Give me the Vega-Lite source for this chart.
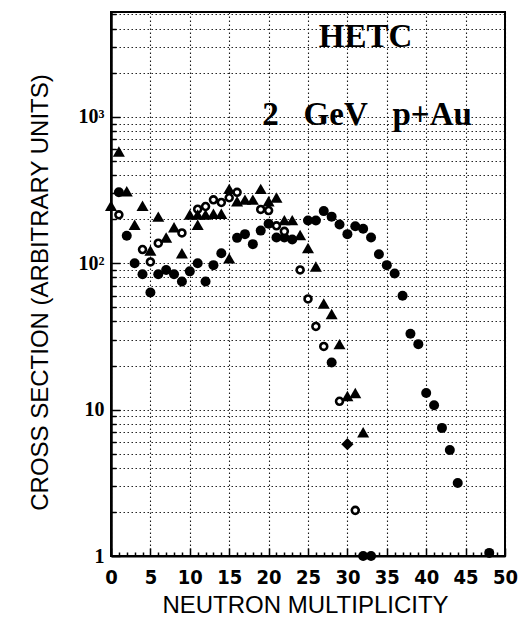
{
  "$schema": "https://vega.github.io/schema/vega-lite/v6.json",
  "autosize": {"type": "none"},
  "padding": {"left": 111, "top": 12, "right": 14, "bottom": 69},
  "width": 394,
  "height": 544,
  "background": "white",
  "config": {"view": {"stroke": "black", "strokeWidth": 2}},
  "datasets": {
    "pts": [
      {"x": 1, "y": 305, "s": "fc"}, {"x": 2, "y": 154, "s": "fc"}, {"x": 3, "y": 100, "s": "fc"},
      {"x": 4, "y": 84, "s": "fc"}, {"x": 5, "y": 63, "s": "fc"}, {"x": 6, "y": 84, "s": "fc"},
      {"x": 7, "y": 90, "s": "fc"}, {"x": 8, "y": 84, "s": "fc"}, {"x": 9, "y": 75, "s": "fc"},
      {"x": 10, "y": 88, "s": "fc"}, {"x": 11, "y": 100, "s": "fc"}, {"x": 12, "y": 75, "s": "fc"},
      {"x": 13, "y": 97, "s": "fc"}, {"x": 14, "y": 117, "s": "fc"}, {"x": 16, "y": 149, "s": "fc"},
      {"x": 17, "y": 158, "s": "fc"}, {"x": 18, "y": 135, "s": "fc"}, {"x": 19, "y": 167, "s": "fc"},
      {"x": 20, "y": 186, "s": "fc"}, {"x": 21, "y": 150, "s": "fc"}, {"x": 22, "y": 150, "s": "fc"},
      {"x": 23, "y": 145, "s": "fc"}, {"x": 25, "y": 196, "s": "fc"}, {"x": 26, "y": 196, "s": "fc"},
      {"x": 27, "y": 227, "s": "fc"}, {"x": 28, "y": 208, "s": "fc"}, {"x": 29, "y": 184, "s": "fc"},
      {"x": 30, "y": 158, "s": "fc"}, {"x": 31, "y": 179, "s": "fc"}, {"x": 32, "y": 172, "s": "fc"},
      {"x": 33, "y": 150, "s": "fc"}, {"x": 34, "y": 115, "s": "fc"}, {"x": 35, "y": 97, "s": "fc"},
      {"x": 36, "y": 85, "s": "fc"}, {"x": 37, "y": 60, "s": "fc"}, {"x": 38, "y": 33, "s": "fc"},
      {"x": 39, "y": 28, "s": "fc"}, {"x": 40, "y": 13, "s": "fc"}, {"x": 41, "y": 10.7, "s": "fc"},
      {"x": 42, "y": 7.5, "s": "fc"}, {"x": 43, "y": 5.3, "s": "fc"}, {"x": 44, "y": 3.15, "s": "fc"},
      {"x": 48, "y": 1.05, "s": "fc"}, {"x": 32, "y": 1.0, "s": "fc"}, {"x": 33, "y": 1.0, "s": "fc"},
      {"x": 28, "y": 21, "s": "fc"},
      {"x": 1, "y": 214, "s": "oc"}, {"x": 4, "y": 124, "s": "oc"}, {"x": 5, "y": 102, "s": "oc"},
      {"x": 6, "y": 137, "s": "oc"}, {"x": 9, "y": 161, "s": "oc"}, {"x": 11, "y": 234, "s": "oc"},
      {"x": 12, "y": 244, "s": "oc"}, {"x": 13, "y": 271, "s": "oc"}, {"x": 14, "y": 260, "s": "oc"},
      {"x": 15, "y": 280, "s": "oc"}, {"x": 16, "y": 305, "s": "oc"}, {"x": 19, "y": 233, "s": "oc"},
      {"x": 20, "y": 229, "s": "oc"}, {"x": 21, "y": 180, "s": "oc"}, {"x": 22, "y": 165, "s": "oc"},
      {"x": 24, "y": 90, "s": "oc"}, {"x": 25, "y": 57, "s": "oc"}, {"x": 26, "y": 37, "s": "oc"},
      {"x": 27, "y": 27, "s": "oc"}, {"x": 29, "y": 11.4, "s": "oc"}, {"x": 31, "y": 2.05, "s": "oc"},
      {"x": 0, "y": 247, "s": "tr"}, {"x": 1, "y": 580, "s": "tr"}, {"x": 2, "y": 310, "s": "tr"},
      {"x": 3, "y": 183, "s": "tr"}, {"x": 4, "y": 247, "s": "tr"}, {"x": 5, "y": 122, "s": "tr"},
      {"x": 6, "y": 208, "s": "tr"}, {"x": 7, "y": 150, "s": "tr"}, {"x": 8, "y": 176, "s": "tr"},
      {"x": 9, "y": 117, "s": "tr"}, {"x": 10, "y": 215, "s": "tr"}, {"x": 11, "y": 183, "s": "tr"},
      {"x": 11, "y": 215, "s": "tr"}, {"x": 12, "y": 215, "s": "tr"}, {"x": 13, "y": 218, "s": "tr"},
      {"x": 14, "y": 218, "s": "tr"}, {"x": 15, "y": 322, "s": "tr"}, {"x": 15, "y": 108, "s": "tr"},
      {"x": 16, "y": 265, "s": "tr"}, {"x": 17, "y": 272, "s": "tr"}, {"x": 18, "y": 272, "s": "tr"},
      {"x": 19, "y": 322, "s": "tr"}, {"x": 20, "y": 265, "s": "tr"}, {"x": 21, "y": 281, "s": "tr"},
      {"x": 22, "y": 197, "s": "tr"}, {"x": 23, "y": 197, "s": "tr"}, {"x": 24, "y": 156, "s": "tr"},
      {"x": 25, "y": 127, "s": "tr"}, {"x": 26, "y": 95, "s": "tr"}, {"x": 27, "y": 53, "s": "tr"},
      {"x": 28, "y": 45, "s": "tr"}, {"x": 29, "y": 28, "s": "tr"}, {"x": 30, "y": 12.4, "s": "tr"},
      {"x": 31, "y": 13, "s": "tr"}, {"x": 32, "y": 7, "s": "tr"},
      {"x": 30, "y": 5.8, "s": "di"}
    ],
    "labels": [
      {"x": 32.3, "y": 2980, "t": "HETC"},
      {"x": 32.5, "y": 875, "t": "2\u00a0\u00a0\u00a0GeV\u00a0\u00a0\u00a0p+Au"}
    ]
  },
  "data": {"name": "pts"},
  "encoding": {
    "x": {
      "field": "x", "type": "quantitative",
      "scale": {"domain": [0, 50], "nice": false, "zero": false},
      "axis": {
        "values": [0,1,2,3,4,5,6,7,8,9,10,11,12,13,14,15,16,17,18,19,20,21,22,23,24,25,26,27,28,29,30,31,32,33,34,35,36,37,38,39,40,41,42,43,44,45,46,47,48,49,50],
        "labelExpr": "datum.value % 5 === 0 ? datum.label : ''",
        "labelFont": "DejaVu Sans Condensed", "labelFontWeight": "bold", "labelFontSize": 20,
        "labelColor": "black", "labelPadding": 19, "labelFlush": false,
        "tickColor": "black", "tickWidth": 1.5,
        "tickSize": {"condition": {"test": "datum.value % 5 === 0", "value": -8}, "value": -4},
        "domainColor": "black", "domainWidth": 2,
        "grid": true, "gridColor": "black", "gridDash": [1.5, 2.5], "gridWidth": 1.1,
        "gridOpacity": {"condition": {"test": "datum.value % 5 === 0", "value": 0.9}, "value": 0},
        "title": "NEUTRON MULTIPLICITY",
        "titleFont": "Liberation Sans", "titleFontWeight": "normal", "titleFontSize": 24,
        "titleColor": "black", "titleX": 194, "titleY": 56, "titleBaseline": "alphabetic", "titleAlign": "center"
      }
    },
    "y": {
      "field": "y", "type": "quantitative",
      "scale": {"type": "log", "domain": [1, 5200], "nice": false},
      "axis": {
        "values": [1,2,3,4,5,6,7,8,9,10,20,30,40,50,60,70,80,90,100,200,300,400,500,600,700,800,900,1000,2000,3000,4000,5000],
        "labelExpr": "datum.value === 1 ? '1' : datum.value === 10 ? '10' : datum.value === 100 ? '10²' : datum.value === 1000 ? '10³' : ''",
        "labelFont": "Liberation Serif", "labelFontWeight": "bold", "labelFontSize": 20,
        "labelColor": "black", "labelPadding": 16, "labelFlush": false,
        "tickColor": "black", "tickWidth": 1.5,
        "tickSize": {"condition": {"test": "datum.value === 1 || datum.value === 10 || datum.value === 100 || datum.value === 1000", "value": -9}, "value": -5},
        "domainColor": "black", "domainWidth": 2.5,
        "grid": true, "gridColor": "black", "gridDash": [1.5, 2.5], "gridWidth": 1.1, "gridOpacity": 0.85,
        "title": "CROSS SECTION (ARBITRARY UNITS)",
        "titleFont": "Liberation Sans", "titleFontWeight": "normal", "titleFontSize": 24,
        "titleColor": "black", "titleX": -71, "titleY": 280, "titleAngle": -90,
        "titleBaseline": "middle", "titleAlign": "center"
      }
    }
  },
  "layer": [
    {
      "transform": [{"filter": "datum.s === 'fc'"}],
      "mark": {"type": "point", "shape": "circle", "filled": true, "color": "black", "opacity": 1, "size": 100}
    },
    {
      "transform": [{"filter": "datum.s === 'oc'"}],
      "mark": {"type": "point", "shape": "circle", "filled": false, "stroke": "black", "fill": "white", "fillOpacity": 1, "strokeWidth": 2.6, "opacity": 1, "size": 48}
    },
    {
      "transform": [{"filter": "datum.s === 'tr'"}],
      "mark": {"type": "point", "shape": "triangle-up", "filled": true, "color": "black", "opacity": 1, "size": 145}
    },
    {
      "transform": [{"filter": "datum.s === 'di'"}],
      "mark": {"type": "point", "shape": "diamond", "filled": true, "color": "black", "opacity": 1, "size": 150}
    },
    {
      "data": {"name": "labels"},
      "mark": {"type": "text", "font": "Liberation Serif", "fontWeight": "bold", "fontSize": 33, "color": "black", "align": "center", "baseline": "alphabetic"},
      "encoding": {"text": {"field": "t"}}
    }
  ]
}
